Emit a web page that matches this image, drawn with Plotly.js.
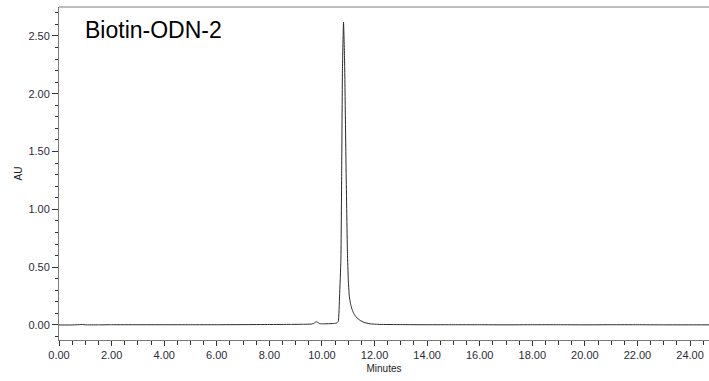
<!DOCTYPE html>
<html>
<head>
<meta charset="utf-8">
<script src="https://cdn.plot.ly/plotly-3.0.1.min.js"></script>
<style>html,body{margin:0;padding:0;background:#fff;}#chart{width:709px;height:381px;}</style>
</head>
<body>
<div id="chart"></div>
<script>
// Retention time (minutes) and absorbance (AU)
const minutes = [0.0, 0.5, 0.9, 1.0, 1.5, 2.0, 3.0, 4.0, 5.0, 6.0, 7.0, 8.0, 8.8, 9.3, 9.6, 9.7, 9.75, 9.8, 9.85, 9.9, 9.95, 10.1, 10.4, 10.55, 10.62, 10.67, 10.72, 10.75, 10.78, 10.82, 10.86, 10.92, 10.97, 11.0, 11.04, 11.1, 11.16, 11.22, 11.3, 11.45, 11.6, 11.83, 12.2, 13.0, 14.0, 15.0, 16.0, 17.0, 18.0, 19.0, 20.0, 21.0, 22.0, 23.0, 24.0, 24.72];
const absorbance = [0.0, 0.0, 0.004, 0.001, 0.001, 0.002, 0.002, 0.002, 0.002, 0.002, 0.003, 0.004, 0.005, 0.006, 0.008, 0.015, 0.024, 0.027, 0.022, 0.013, 0.01, 0.01, 0.012, 0.016, 0.03, 0.25, 0.56, 1.31, 2.2, 2.62, 2.3, 1.31, 0.62, 0.4, 0.25, 0.17, 0.125, 0.095, 0.068, 0.04, 0.022, 0.01, 0.005, 0.003, 0.002, 0.002, 0.002, 0.001, 0.002, 0.002, 0.001, 0.002, 0.002, 0.001, 0.001, 0.001];
const sampleLabel = "Biotin-ODN-2";
const xTitle = "Minutes";
const yTitle = "AU";

const axisColor = "#7a7a7a";
const tickFontColor = "#2b2b3a";

const trace = {
  x: minutes,
  y: absorbance,
  type: "scatter",
  mode: "lines",
  line: {color: "#2a2a2a", width: 1, shape: "spline", smoothing: 0.4},
  hoverinfo: "skip"
};

const layout = {
  width: 709,
  height: 381,
  margin: {l: 59, r: 0, t: 7, b: 41},
  paper_bgcolor: "#ffffff",
  plot_bgcolor: "#ffffff",
  showlegend: false,
  font: {family: "Liberation Sans, Arial, sans-serif", size: 11, color: tickFontColor},
  xaxis: {
    range: [0, 24.72],
    tick0: 0,
    dtick: 2,
    tickformat: ".2f",
    ticks: "outside",
    ticklen: 5,
    tickwidth: 1,
    tickcolor: "#333",
    minor: {dtick: 0.5, ticks: "outside", ticklen: 4, tickcolor: "#333", showgrid: false},
    showline: true,
    linecolor: axisColor,
    linewidth: 1,
    showgrid: false,
    zeroline: false,
    tickfont: {size: 11, color: tickFontColor},
    title: {text: xTitle, font: {size: 10, color: "#222"}, standoff: 4}
  },
  yaxis: {
    range: [-0.13, 2.75],
    tick0: 0,
    dtick: 0.5,
    tickformat: ".2f",
    ticks: "outside",
    ticklen: 6,
    tickwidth: 1,
    tickcolor: "#333",
    minor: {dtick: 0.1, ticks: "outside", ticklen: 3, tickcolor: "#333", showgrid: false},
    showline: true,
    linecolor: axisColor,
    linewidth: 1,
    showgrid: false,
    zeroline: false,
    tickfont: {size: 11, color: tickFontColor},
    title: {text: yTitle, font: {size: 10, color: "#222"}, standoff: 3}
  },
  shapes: [{
    type: "line", xref: "paper", yref: "paper",
    x0: 0, x1: 1, y0: 1, y1: 1,
    line: {color: axisColor, width: 1}
  }],
  annotations: [{
    text: sampleLabel,
    xref: "paper", yref: "paper",
    x: 0.0365, y: 0.931,
    xanchor: "left", yanchor: "middle",
    showarrow: false,
    font: {family: "Liberation Sans, Arial, sans-serif", size: 23, color: "#000"}
  }]
};

Plotly.newPlot("chart", [trace], layout, {displayModeBar: false, staticPlot: true});
</script>
</body>
</html>
